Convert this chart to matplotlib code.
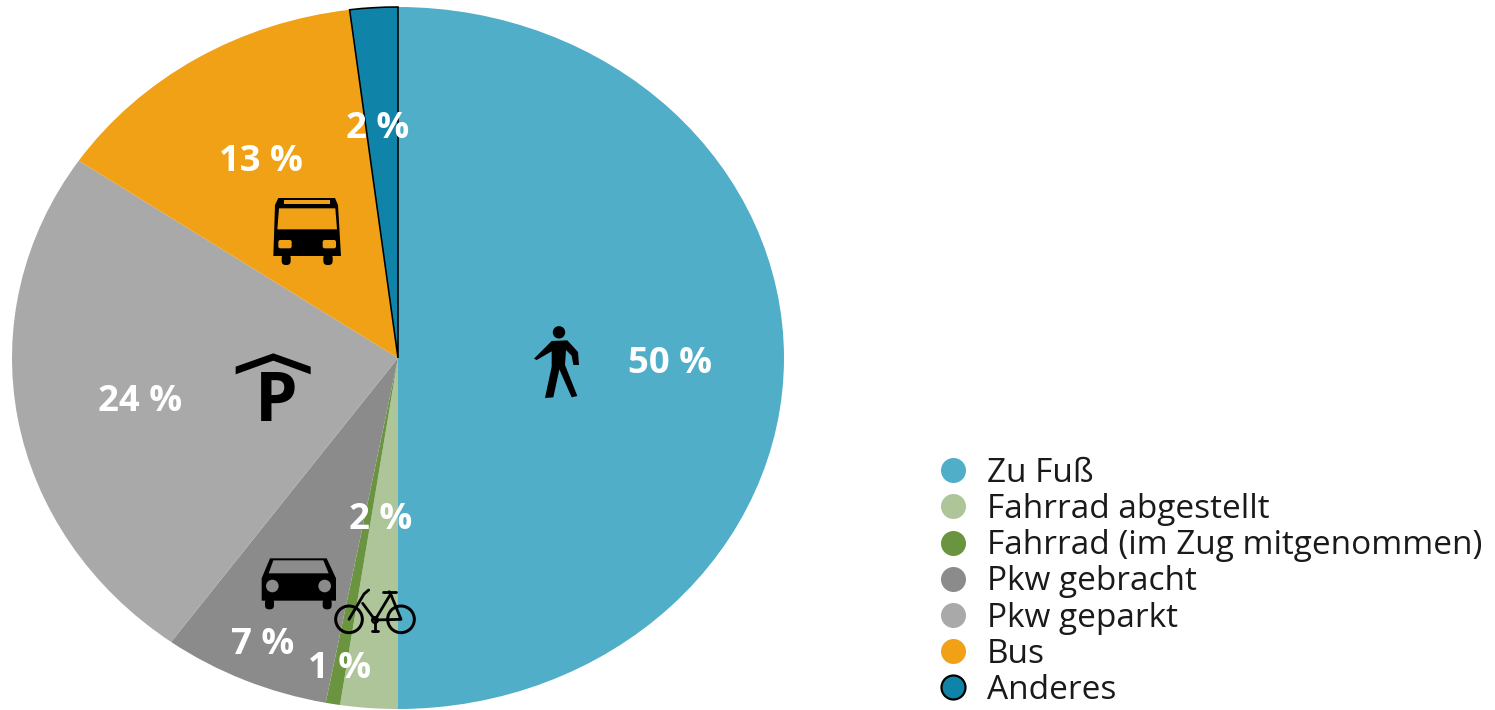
import matplotlib
matplotlib.use('Agg')
import matplotlib.pyplot as plt
from matplotlib.lines import Line2D
from matplotlib.patches import Circle, Ellipse, FancyBboxPatch, Polygon

plt.rcParams['font.family'] = ['Open Sans', 'DejaVu Sans']

categories = ['Zu Fuß', 'Fahrrad abgestellt', 'Fahrrad (im Zug mitgenommen)',
              'Pkw gebracht', 'Pkw geparkt', 'Bus', 'Anderes']
# slice sizes as drawn in the picture (the printed labels are rounded)
shares = [50.0, 2.4, 0.6, 7.0, 24.5, 13.5, 2.0]
share_labels = ['50 %', '2 %', '1 %', '7 %', '24 %', '13 %', '2 %']
colors = ['#50aec8', '#aec59a', '#6a9440', '#8b8b8b', '#a9a9a9', '#f1a116', '#0f84a8']

# label centres in pixels
label_xy = [(670, 364), (381, 520), (340, 669), (263, 645), (140, 402), (261, 162), (378, 129)]

W, H = 1495, 710
PT = 72 / 100  # points per pixel at dpi 100
BLACK = '#000000'
BUS_BG, CAR_BG, P_BG = colors[5], colors[3], colors[4]


def poly(ax, pts, ox, oy, fc=BLACK, z=5):
    ax.add_patch(Polygon([(ox + x / 3, oy + y / 3) for x, y in pts], closed=True,
                         fc=fc, ec='none', zorder=z))


def rbox(ax, x0, y0, x1, y1, ox, oy, fc=BLACK, rad=3, z=5):
    ax.add_patch(FancyBboxPatch((ox + x0 / 3 + rad, oy + y0 / 3 + rad),
                                (x1 - x0) / 3 - 2 * rad, (y1 - y0) / 3 - 2 * rad,
                                boxstyle='round,pad=%g' % rad, fc=fc, ec='none', zorder=z))


def line(ax, pts, ox, oy, lw=2.8):
    ax.plot([ox + x / 3 for x, y in pts], [oy + y / 3 for x, y in pts], color=BLACK,
            lw=lw * PT, solid_capstyle='round', solid_joinstyle='round', zorder=5)


def walker(ax):
    ox, oy = 520, 310
    ax.add_patch(Circle((ox + 117 / 3, oy + 67 / 3), 6.2, fc=BLACK, ec='none', zorder=5))
    poly(ax, [(42, 146), (95, 93), (142, 91), (174, 126), (177, 165), (160, 165), (155, 137),
              (138, 120), (135, 165), (172, 258), (155, 262), (118, 178), (100, 262), (75, 264),
              (95, 170), (95, 124), (50, 150)], ox, oy)


def bus(ax):
    ox, oy = 230, 180
    poly(ax, [(145, 54), (315, 54), (324, 75), (333, 228), (130, 228), (135, 75)], ox, oy)
    poly(ax, [(163, 60), (300, 60), (300, 73), (163, 73)], ox, oy, fc=BUS_BG, z=6)
    poly(ax, [(147, 85), (316, 85), (321, 148), (142, 148)], ox, oy, fc=BUS_BG, z=6)
    rbox(ax, 145, 180, 185, 205, ox, oy, fc=BUS_BG, rad=2, z=6)
    rbox(ax, 278, 180, 318, 205, ox, oy, fc=BUS_BG, rad=2, z=6)
    rbox(ax, 155, 222, 182, 255, ox, oy, rad=4)
    rbox(ax, 280, 222, 308, 255, ox, oy, rad=4)


def parking(ax):
    ox, oy = 220, 340
    poly(ax, [(47, 80), (160, 40), (272, 80), (272, 103), (160, 62), (47, 103)], ox, oy)
    ax.text(276, 403, 'P', color=BLACK, fontsize=68 * PT, fontweight='bold',
            ha='center', va='center', zorder=5)


def car(ax):
    ox, oy = 220, 490
    poly(ax, [(125, 265), (150, 205), (320, 205), (348, 265), (348, 332), (125, 332)], ox, oy)
    poly(ax, [(160, 211), (310, 211), (326, 250), (146, 250)], ox, oy, fc=CAR_BG, z=6)
    for cx in (157, 314):
        ax.add_patch(Circle((ox + cx / 3, oy + 288 / 3), 6.3, fc=CAR_BG, ec='none', zorder=6))
    rbox(ax, 135, 325, 162, 358, ox, oy, rad=4)
    rbox(ax, 308, 325, 335, 358, ox, oy, rad=4)


def bike(ax):
    ox, oy = 220, 490
    for cx in (387, 543):
        ax.add_patch(Ellipse((ox + cx / 3, oy + 388 / 3), 80 / 3, 80 / 3, fc='none', ec=BLACK,
                             lw=3 * PT, zorder=5))
    ax.add_patch(Circle((ox + 465 / 3, oy + 390 / 3), 2.8, fc='none', ec=BLACK, lw=2.4 * PT, zorder=5))
    line(ax, [(387, 388), (432, 312), (446, 300)], ox, oy)
    line(ax, [(428, 340), (465, 390), (512, 312), (543, 388), (465, 390)], ox, oy)
    line(ax, [(490, 305), (527, 305)], ox, oy)
    line(ax, [(512, 312), (508, 305)], ox, oy)
    line(ax, [(465, 395), (465, 422)], ox, oy)
    line(ax, [(455, 422), (475, 422)], ox, oy)


fig = plt.figure(figsize=(W / 100, H / 100), dpi=100)

# the pie in the picture is stretched wider than tall, so the aspect stays free
ax = fig.add_axes([12 / W, 1 / H, 772 / W, 702 / H])
wedges, _ = ax.pie(shares, colors=colors, startangle=90, counterclock=False, radius=1)
ax.set_aspect('auto')
ax.set_xlim(-1, 1)
ax.set_ylim(-1, 1)
wedges[-1].set_edgecolor(BLACK)
wedges[-1].set_linewidth(1.6 * PT)
for w in wedges:
    w.set_clip_on(False)

# overlay in pixel coordinates for labels and icons
ov = fig.add_axes([0, 0, 1, 1])
ov.set_xlim(0, W)
ov.set_ylim(H, 0)
ov.axis('off')
ov.patch.set_alpha(0)

for txt, (x, y) in zip(share_labels, label_xy):
    ov.text(x, y, txt, color='white', fontsize=36.5 * PT, fontweight='bold',
            ha='center', va='center', zorder=7)

walker(ov)
bus(ov)
parking(ov)
car(ov)
bike(ov)

handles = [Line2D([], [], ls='none', marker='o', ms=25 * PT, mfc=c, mec=c, mew=0) for c in colors]
handles[-1] = Line2D([], [], ls='none', marker='o', ms=24 * PT, mfc=colors[-1], mec=BLACK, mew=2.2 * PT)
leg = ov.legend(handles, categories, loc='lower left', bbox_to_anchor=(936 / W, (H - 707) / H),
                frameon=False, fontsize=33.4 * PT, labelspacing=0.095, handletextpad=0.52,
                handlelength=1.0, borderpad=0, borderaxespad=0, labelcolor='#1a1a1a')

fig.savefig('out.png', dpi=100)
